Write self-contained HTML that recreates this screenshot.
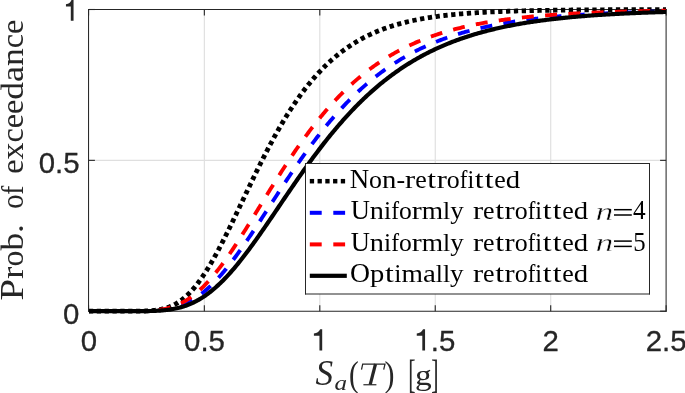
<!DOCTYPE html><html><head><meta charset="utf-8"><style>html,body{margin:0;padding:0;background:#fff}svg{display:block;will-change:transform}</style></head><body><svg width="685" height="393" viewBox="0 0 685 393">
<rect x="0" y="0" width="685" height="393" fill="#fff"/>
<line x1="204.35" y1="9.5" x2="204.35" y2="311.2" stroke="#dfdfdf" stroke-width="1.15"/>
<line x1="319.80" y1="9.5" x2="319.80" y2="311.2" stroke="#dfdfdf" stroke-width="1.15"/>
<line x1="435.25" y1="9.5" x2="435.25" y2="311.2" stroke="#dfdfdf" stroke-width="1.15"/>
<line x1="550.70" y1="9.5" x2="550.70" y2="311.2" stroke="#dfdfdf" stroke-width="1.15"/>
<line x1="88.9" y1="160.35" x2="666.1" y2="160.35" stroke="#dfdfdf" stroke-width="1.15"/>
<g stroke="#262626" stroke-width="1.04" stroke-linecap="square">
<line x1="88.55" y1="9.5" x2="88.55" y2="311.25"/><line x1="666.1" y1="9.5" x2="666.1" y2="311.25"/>
<line x1="88.55" y1="9.5" x2="666.1" y2="9.5"/><line x1="88.55" y1="311.25" x2="666.1" y2="311.25"/>
</g>
<line x1="88.55" y1="311.2" x2="88.55" y2="305.2" stroke="#262626" stroke-width="1.1"/>
<line x1="88.55" y1="9.5" x2="88.55" y2="15.5" stroke="#262626" stroke-width="1.1"/>
<line x1="204.35" y1="311.2" x2="204.35" y2="305.2" stroke="#262626" stroke-width="1.1"/>
<line x1="204.35" y1="9.5" x2="204.35" y2="15.5" stroke="#262626" stroke-width="1.1"/>
<line x1="319.80" y1="311.2" x2="319.80" y2="305.2" stroke="#262626" stroke-width="1.1"/>
<line x1="319.80" y1="9.5" x2="319.80" y2="15.5" stroke="#262626" stroke-width="1.1"/>
<line x1="435.25" y1="311.2" x2="435.25" y2="305.2" stroke="#262626" stroke-width="1.1"/>
<line x1="435.25" y1="9.5" x2="435.25" y2="15.5" stroke="#262626" stroke-width="1.1"/>
<line x1="550.70" y1="311.2" x2="550.70" y2="305.2" stroke="#262626" stroke-width="1.1"/>
<line x1="550.70" y1="9.5" x2="550.70" y2="15.5" stroke="#262626" stroke-width="1.1"/>
<line x1="666.15" y1="311.2" x2="666.15" y2="305.2" stroke="#262626" stroke-width="1.1"/>
<line x1="666.15" y1="9.5" x2="666.15" y2="15.5" stroke="#262626" stroke-width="1.1"/>
<line x1="88.9" y1="311.20" x2="94.9" y2="311.20" stroke="#262626" stroke-width="1.1"/>
<line x1="666.1" y1="311.20" x2="660.1" y2="311.20" stroke="#262626" stroke-width="1.1"/>
<line x1="88.9" y1="160.35" x2="94.9" y2="160.35" stroke="#262626" stroke-width="1.1"/>
<line x1="666.1" y1="160.35" x2="660.1" y2="160.35" stroke="#262626" stroke-width="1.1"/>
<line x1="88.9" y1="9.50" x2="94.9" y2="9.50" stroke="#262626" stroke-width="1.1"/>
<line x1="666.1" y1="9.50" x2="660.1" y2="9.50" stroke="#262626" stroke-width="1.1"/>
<clipPath id="c"><rect x="88.9" y="6.5" width="577.2" height="307.7"/></clipPath>
<clipPath id="c2"><rect x="135" y="6.5" width="531.1" height="307.7"/></clipPath>
<g clip-path="url(#c)" fill="none">
<path d="M88.90,311.20 L90.05,311.20 L91.21,311.20 L92.36,311.20 L93.52,311.20 L94.67,311.20 L95.83,311.20 L96.98,311.20 L98.14,311.20 L99.29,311.20 L100.45,311.20 L101.60,311.20 L102.75,311.20 L103.91,311.20 L105.06,311.20 L106.22,311.20 L107.37,311.20 L108.53,311.20 L109.68,311.20 L110.84,311.20 L111.99,311.20 L113.14,311.20 L114.30,311.20 L115.45,311.20 L116.61,311.20 L117.76,311.20 L118.92,311.20 L120.07,311.20 L121.23,311.20 L122.38,311.20 L123.53,311.20 L124.69,311.20 L125.84,311.20 L127.00,311.20 L128.15,311.20 L129.31,311.20 L130.46,311.19 L131.62,311.19 L132.77,311.19 L133.93,311.18 L135.08,311.18 L136.23,311.17 L137.39,311.16 L138.54,311.15 L139.70,311.13 L140.85,311.11 L142.01,311.09 L143.16,311.06 L144.32,311.03 L145.47,310.99 L146.62,310.94 L147.78,310.89 L148.93,310.83 L150.09,310.75 L151.24,310.67 L152.40,310.57 L153.55,310.46 L154.71,310.34 L155.86,310.20 L157.02,310.04 L158.17,309.87 L159.32,309.67 L160.48,309.45 L161.63,309.21 L162.79,308.94 L163.94,308.65 L165.10,308.33 L166.25,307.99 L167.41,307.61 L168.56,307.20 L169.72,306.76 L170.87,306.28 L172.02,305.77 L173.18,305.22 L174.33,304.64 L175.49,304.01 L176.64,303.35 L177.80,302.64 L178.95,301.89 L180.11,301.10 L181.26,300.26 L182.41,299.39 L183.57,298.46 L184.72,297.49 L185.88,296.48 L187.03,295.42 L188.19,294.31 L189.34,293.16 L190.50,291.95 L191.65,290.71 L192.81,289.41 L193.96,288.07 L195.11,286.69 L196.27,285.25 L197.42,283.78 L198.58,282.25 L199.73,280.69 L200.89,279.08 L202.04,277.42 L203.20,275.73 L204.35,273.99 L205.50,272.21 L206.66,270.39 L207.81,268.54 L208.97,266.64 L210.12,264.71 L211.28,262.75 L212.43,260.75 L213.59,258.71 L214.74,256.65 L215.90,254.55 L217.05,252.43 L218.20,250.27 L219.36,248.09 L220.51,245.89 L221.67,243.66 L222.82,241.40 L223.98,239.13 L225.13,236.83 L226.29,234.52 L227.44,232.19 L228.59,229.84 L229.75,227.48 L230.90,225.11 L232.06,222.72 L233.21,220.32 L234.37,217.92 L235.52,215.50 L236.68,213.08 L237.83,210.65 L238.99,208.22 L240.14,205.79 L241.29,203.35 L242.45,200.91 L243.60,198.48 L244.76,196.04 L245.91,193.61 L247.07,191.18 L248.22,188.76 L249.38,186.34 L250.53,183.92 L251.68,181.52 L252.84,179.12 L253.99,176.73 L255.15,174.36 L256.30,171.99 L257.46,169.64 L258.61,167.29 L259.77,164.96 L260.92,162.65 L262.08,160.35 L263.23,158.07 L264.38,155.80 L265.54,153.54 L266.69,151.31 L267.85,149.09 L269.00,146.89 L270.16,144.71 L271.31,142.55 L272.47,140.40 L273.62,138.28 L274.77,136.18 L275.93,134.10 L277.08,132.03 L278.24,129.99 L279.39,127.97 L280.55,125.98 L281.70,124.00 L282.86,122.05 L284.01,120.12 L285.16,118.21 L286.32,116.32 L287.47,114.46 L288.63,112.62 L289.78,110.80 L290.94,109.00 L292.09,107.23 L293.25,105.48 L294.40,103.76 L295.56,102.06 L296.71,100.38 L297.86,98.72 L299.02,97.09 L300.17,95.47 L301.33,93.89 L302.48,92.32 L303.64,90.78 L304.79,89.26 L305.95,87.76 L307.10,86.29 L308.25,84.84 L309.41,83.41 L310.56,82.00 L311.72,80.61 L312.87,79.25 L314.03,77.91 L315.18,76.59 L316.34,75.29 L317.49,74.01 L318.65,72.75 L319.80,71.52 L320.95,70.30 L322.11,69.10 L323.26,67.93 L324.42,66.77 L325.57,65.64 L326.73,64.52 L327.88,63.42 L329.04,62.34 L330.19,61.28 L331.35,60.24 L332.50,59.22 L333.65,58.22 L334.81,57.23 L335.96,56.26 L337.12,55.31 L338.27,54.38 L339.43,53.46 L340.58,52.56 L341.74,51.68 L342.89,50.81 L344.04,49.96 L345.20,49.12 L346.35,48.30 L347.51,47.50 L348.66,46.71 L349.82,45.94 L350.97,45.18 L352.13,44.43 L353.28,43.70 L354.43,42.99 L355.59,42.28 L356.74,41.60 L357.90,40.92 L359.05,40.26 L360.21,39.61 L361.36,38.97 L362.52,38.35 L363.67,37.74 L364.83,37.14 L365.98,36.55 L367.13,35.97 L368.29,35.41 L369.44,34.86 L370.60,34.31 L371.75,33.78 L372.91,33.26 L374.06,32.75 L375.22,32.25 L376.37,31.77 L377.52,31.29 L378.68,30.82 L379.83,30.36 L380.99,29.91 L382.14,29.47 L383.30,29.03 L384.45,28.61 L385.61,28.20 L386.76,27.79 L387.92,27.40 L389.07,27.01 L390.22,26.63 L391.38,26.25 L392.53,25.89 L393.69,25.53 L394.84,25.18 L396.00,24.84 L397.15,24.50 L398.31,24.18 L399.46,23.85 L400.62,23.54 L401.77,23.23 L402.92,22.93 L404.08,22.64 L405.23,22.35 L406.39,22.07 L407.54,21.79 L408.70,21.52 L409.85,21.26 L411.01,21.00 L412.16,20.74 L413.31,20.50 L414.47,20.25 L415.62,20.02 L416.78,19.78 L417.93,19.56 L419.09,19.34 L420.24,19.12 L421.40,18.91 L422.55,18.70 L423.71,18.49 L424.86,18.30 L426.01,18.10 L427.17,17.91 L428.32,17.72 L429.48,17.54 L430.63,17.36 L431.79,17.19 L432.94,17.02 L434.10,16.85 L435.25,16.69 L436.40,16.53 L437.56,16.37 L438.71,16.22 L439.87,16.07 L441.02,15.93 L442.18,15.78 L443.33,15.64 L444.49,15.51 L445.64,15.37 L446.80,15.24 L447.95,15.12 L449.10,14.99 L450.26,14.87 L451.41,14.75 L452.57,14.63 L453.72,14.52 L454.88,14.41 L456.03,14.30 L457.19,14.19 L458.34,14.09 L459.49,13.98 L460.65,13.88 L461.80,13.79 L462.96,13.69 L464.11,13.60 L465.27,13.51 L466.42,13.42 L467.58,13.33 L468.73,13.25 L469.88,13.16 L471.04,13.08 L472.19,13.00 L473.35,12.92 L474.50,12.85 L475.66,12.77 L476.81,12.70 L477.97,12.63 L479.12,12.56 L480.28,12.49 L481.43,12.42 L482.58,12.36 L483.74,12.30 L484.89,12.23 L486.05,12.17 L487.20,12.11 L488.36,12.06 L489.51,12.00 L490.67,11.94 L491.82,11.89 L492.98,11.84 L494.13,11.78 L495.28,11.73 L496.44,11.68 L497.59,11.64 L498.75,11.59 L499.90,11.54 L501.06,11.50 L502.21,11.45 L503.37,11.41 L504.52,11.37 L505.67,11.33 L506.83,11.28 L507.98,11.25 L509.14,11.21 L510.29,11.17 L511.45,11.13 L512.60,11.10 L513.76,11.06 L514.91,11.03 L516.07,10.99 L517.22,10.96 L518.37,10.93 L519.53,10.90 L520.68,10.86 L521.84,10.83 L522.99,10.80 L524.15,10.78 L525.30,10.75 L526.46,10.72 L527.61,10.69 L528.76,10.67 L529.92,10.64 L531.07,10.62 L532.23,10.59 L533.38,10.57 L534.54,10.54 L535.69,10.52 L536.85,10.50 L538.00,10.48 L539.15,10.46 L540.31,10.43 L541.46,10.41 L542.62,10.39 L543.77,10.37 L544.93,10.35 L546.08,10.34 L547.24,10.32 L548.39,10.30 L549.55,10.28 L550.70,10.27 L551.85,10.25 L553.01,10.23 L554.16,10.22 L555.32,10.20 L556.47,10.19 L557.63,10.17 L558.78,10.16 L559.94,10.14 L561.09,10.13 L562.25,10.11 L563.40,10.10 L564.55,10.09 L565.71,10.07 L566.86,10.06 L568.02,10.05 L569.17,10.04 L570.33,10.03 L571.48,10.01 L572.64,10.00 L573.79,9.99 L574.94,9.98 L576.10,9.97 L577.25,9.96 L578.41,9.95 L579.56,9.94 L580.72,9.93 L581.87,9.92 L583.03,9.91 L584.18,9.90 L585.34,9.90 L586.49,9.89 L587.64,9.88 L588.80,9.87 L589.95,9.86 L591.11,9.85 L592.26,9.85 L593.42,9.84 L594.57,9.83 L595.73,9.82 L596.88,9.82 L598.03,9.81 L599.19,9.80 L600.34,9.80 L601.50,9.79 L602.65,9.79 L603.81,9.78 L604.96,9.77 L606.12,9.77 L607.27,9.76 L608.42,9.76 L609.58,9.75 L610.73,9.74 L611.89,9.74 L613.04,9.73 L614.20,9.73 L615.35,9.72 L616.51,9.72 L617.66,9.72 L618.82,9.71 L619.97,9.71 L621.12,9.70 L622.28,9.70 L623.43,9.69 L624.59,9.69 L625.74,9.69 L626.90,9.68 L628.05,9.68 L629.21,9.67 L630.36,9.67 L631.51,9.67 L632.67,9.66 L633.82,9.66 L634.98,9.66 L636.13,9.65 L637.29,9.65 L638.44,9.65 L639.60,9.64 L640.75,9.64 L641.91,9.64 L643.06,9.63 L644.21,9.63 L645.37,9.63 L646.52,9.63 L647.68,9.62 L648.83,9.62 L649.99,9.62 L651.14,9.62 L652.30,9.61 L653.45,9.61 L654.61,9.61 L655.76,9.61 L656.91,9.60 L658.07,9.60 L659.22,9.60 L660.38,9.60 L661.53,9.60 L662.69,9.59 L663.84,9.59 L665.00,9.59 L666.15,9.59" stroke="#000" stroke-width="4.8" stroke-dasharray="4.3 3.55"/>
<path clip-path="url(#c2)" d="M88.90,311.20 L90.05,311.20 L91.21,311.20 L92.36,311.20 L93.52,311.20 L94.67,311.20 L95.83,311.20 L96.98,311.20 L98.14,311.20 L99.29,311.20 L100.45,311.20 L101.60,311.20 L102.75,311.20 L103.91,311.20 L105.06,311.20 L106.22,311.20 L107.37,311.20 L108.53,311.20 L109.68,311.20 L110.84,311.20 L111.99,311.20 L113.14,311.20 L114.30,311.20 L115.45,311.20 L116.61,311.20 L117.76,311.20 L118.92,311.20 L120.07,311.20 L121.23,311.20 L122.38,311.20 L123.53,311.20 L124.69,311.20 L125.84,311.20 L127.00,311.20 L128.15,311.20 L129.31,311.19 L130.46,311.19 L131.62,311.19 L132.77,311.19 L133.93,311.18 L135.08,311.18 L136.23,311.17 L137.39,311.16 L138.54,311.16 L139.70,311.14 L140.85,311.13 L142.01,311.12 L143.16,311.10 L144.32,311.08 L145.47,311.05 L146.62,311.02 L147.78,310.99 L148.93,310.95 L150.09,310.91 L151.24,310.86 L152.40,310.80 L153.55,310.74 L154.71,310.67 L155.86,310.59 L157.02,310.50 L158.17,310.40 L159.32,310.29 L160.48,310.17 L161.63,310.04 L162.79,309.90 L163.94,309.74 L165.10,309.57 L166.25,309.39 L167.41,309.19 L168.56,308.97 L169.72,308.74 L170.87,308.49 L172.02,308.23 L173.18,307.94 L174.33,307.64 L175.49,307.32 L176.64,306.97 L177.80,306.61 L178.95,306.22 L180.11,305.81 L181.26,305.38 L182.41,304.93 L183.57,304.45 L184.72,303.95 L185.88,303.42 L187.03,302.87 L188.19,302.29 L189.34,301.69 L190.50,301.06 L191.65,300.41 L192.81,299.73 L193.96,299.02 L195.11,298.29 L196.27,297.53 L197.42,296.75 L198.58,295.93 L199.73,295.09 L200.89,294.23 L202.04,293.33 L203.20,292.41 L204.35,291.46 L205.50,290.49 L206.66,289.49 L207.81,288.46 L208.97,287.41 L210.12,286.33 L211.28,285.22 L212.43,284.09 L213.59,282.93 L214.74,281.75 L215.90,280.55 L217.05,279.32 L218.20,278.07 L219.36,276.79 L220.51,275.49 L221.67,274.17 L222.82,272.82 L223.98,271.46 L225.13,270.07 L226.29,268.66 L227.44,267.24 L228.59,265.79 L229.75,264.32 L230.90,262.84 L232.06,261.34 L233.21,259.82 L234.37,258.28 L235.52,256.73 L236.68,255.16 L237.83,253.57 L238.99,251.97 L240.14,250.36 L241.29,248.73 L242.45,247.09 L243.60,245.44 L244.76,243.78 L245.91,242.10 L247.07,240.42 L248.22,238.72 L249.38,237.02 L250.53,235.31 L251.68,233.58 L252.84,231.86 L253.99,230.12 L255.15,228.38 L256.30,226.63 L257.46,224.87 L258.61,223.11 L259.77,221.35 L260.92,219.58 L262.08,217.81 L263.23,216.03 L264.38,214.26 L265.54,212.48 L266.69,210.70 L267.85,208.92 L269.00,207.14 L270.16,205.36 L271.31,203.58 L272.47,201.80 L273.62,200.02 L274.77,198.24 L275.93,196.47 L277.08,194.70 L278.24,192.93 L279.39,191.16 L280.55,189.40 L281.70,187.64 L282.86,185.89 L284.01,184.14 L285.16,182.40 L286.32,180.66 L287.47,178.93 L288.63,177.20 L289.78,175.48 L290.94,173.77 L292.09,172.07 L293.25,170.37 L294.40,168.68 L295.56,167.00 L296.71,165.32 L297.86,163.66 L299.02,162.00 L300.17,160.35 L301.33,158.71 L302.48,157.08 L303.64,155.46 L304.79,153.85 L305.95,152.25 L307.10,150.65 L308.25,149.07 L309.41,147.50 L310.56,145.94 L311.72,144.39 L312.87,142.85 L314.03,141.32 L315.18,139.80 L316.34,138.29 L317.49,136.80 L318.65,135.31 L319.80,133.84 L320.95,132.38 L322.11,130.93 L323.26,129.49 L324.42,128.06 L325.57,126.64 L326.73,125.24 L327.88,123.85 L329.04,122.47 L330.19,121.10 L331.35,119.74 L332.50,118.40 L333.65,117.07 L334.81,115.74 L335.96,114.44 L337.12,113.14 L338.27,111.86 L339.43,110.58 L340.58,109.32 L341.74,108.07 L342.89,106.84 L344.04,105.61 L345.20,104.40 L346.35,103.20 L347.51,102.01 L348.66,100.84 L349.82,99.67 L350.97,98.52 L352.13,97.38 L353.28,96.25 L354.43,95.13 L355.59,94.03 L356.74,92.93 L357.90,91.85 L359.05,90.78 L360.21,89.72 L361.36,88.68 L362.52,87.64 L363.67,86.62 L364.83,85.60 L365.98,84.60 L367.13,83.61 L368.29,82.63 L369.44,81.66 L370.60,80.70 L371.75,79.76 L372.91,78.82 L374.06,77.90 L375.22,76.98 L376.37,76.08 L377.52,75.18 L378.68,74.30 L379.83,73.43 L380.99,72.57 L382.14,71.72 L383.30,70.87 L384.45,70.04 L385.61,69.22 L386.76,68.41 L387.92,67.61 L389.07,66.82 L390.22,66.03 L391.38,65.26 L392.53,64.50 L393.69,63.74 L394.84,63.00 L396.00,62.26 L397.15,61.54 L398.31,60.82 L399.46,60.11 L400.62,59.41 L401.77,58.72 L402.92,58.04 L404.08,57.37 L405.23,56.70 L406.39,56.05 L407.54,55.40 L408.70,54.76 L409.85,54.13 L411.01,53.51 L412.16,52.89 L413.31,52.29 L414.47,51.69 L415.62,51.10 L416.78,50.51 L417.93,49.94 L419.09,49.37 L420.24,48.81 L421.40,48.26 L422.55,47.71 L423.71,47.17 L424.86,46.64 L426.01,46.12 L427.17,45.60 L428.32,45.09 L429.48,44.59 L430.63,44.09 L431.79,43.60 L432.94,43.11 L434.10,42.64 L435.25,42.17 L436.40,41.70 L437.56,41.25 L438.71,40.79 L439.87,40.35 L441.02,39.91 L442.18,39.47 L443.33,39.05 L444.49,38.63 L445.64,38.21 L446.80,37.80 L447.95,37.39 L449.10,37.00 L450.26,36.60 L451.41,36.21 L452.57,35.83 L453.72,35.45 L454.88,35.08 L456.03,34.71 L457.19,34.35 L458.34,34.00 L459.49,33.64 L460.65,33.30 L461.80,32.96 L462.96,32.62 L464.11,32.29 L465.27,31.96 L466.42,31.63 L467.58,31.32 L468.73,31.00 L469.88,30.69 L471.04,30.39 L472.19,30.08 L473.35,29.79 L474.50,29.49 L475.66,29.21 L476.81,28.92 L477.97,28.64 L479.12,28.36 L480.28,28.09 L481.43,27.82 L482.58,27.56 L483.74,27.30 L484.89,27.04 L486.05,26.79 L487.20,26.54 L488.36,26.29 L489.51,26.05 L490.67,25.81 L491.82,25.57 L492.98,25.34 L494.13,25.11 L495.28,24.88 L496.44,24.66 L497.59,24.44 L498.75,24.22 L499.90,24.01 L501.06,23.80 L502.21,23.59 L503.37,23.39 L504.52,23.19 L505.67,22.99 L506.83,22.79 L507.98,22.60 L509.14,22.41 L510.29,22.22 L511.45,22.04 L512.60,21.86 L513.76,21.68 L514.91,21.50 L516.07,21.33 L517.22,21.16 L518.37,20.99 L519.53,20.82 L520.68,20.66 L521.84,20.49 L522.99,20.33 L524.15,20.18 L525.30,20.02 L526.46,19.87 L527.61,19.72 L528.76,19.57 L529.92,19.42 L531.07,19.28 L532.23,19.14 L533.38,19.00 L534.54,18.86 L535.69,18.73 L536.85,18.59 L538.00,18.46 L539.15,18.33 L540.31,18.20 L541.46,18.08 L542.62,17.95 L543.77,17.83 L544.93,17.71 L546.08,17.59 L547.24,17.47 L548.39,17.36 L549.55,17.24 L550.70,17.13 L551.85,17.02 L553.01,16.91 L554.16,16.80 L555.32,16.70 L556.47,16.59 L557.63,16.49 L558.78,16.39 L559.94,16.29 L561.09,16.19 L562.25,16.10 L563.40,16.00 L564.55,15.91 L565.71,15.81 L566.86,15.72 L568.02,15.63 L569.17,15.54 L570.33,15.46 L571.48,15.37 L572.64,15.29 L573.79,15.20 L574.94,15.12 L576.10,15.04 L577.25,14.96 L578.41,14.88 L579.56,14.80 L580.72,14.73 L581.87,14.65 L583.03,14.58 L584.18,14.50 L585.34,14.43 L586.49,14.36 L587.64,14.29 L588.80,14.22 L589.95,14.15 L591.11,14.09 L592.26,14.02 L593.42,13.96 L594.57,13.89 L595.73,13.83 L596.88,13.77 L598.03,13.71 L599.19,13.65 L600.34,13.59 L601.50,13.53 L602.65,13.47 L603.81,13.41 L604.96,13.36 L606.12,13.30 L607.27,13.25 L608.42,13.19 L609.58,13.14 L610.73,13.09 L611.89,13.04 L613.04,12.99 L614.20,12.94 L615.35,12.89 L616.51,12.84 L617.66,12.79 L618.82,12.74 L619.97,12.70 L621.12,12.65 L622.28,12.61 L623.43,12.56 L624.59,12.52 L625.74,12.48 L626.90,12.43 L628.05,12.39 L629.21,12.35 L630.36,12.31 L631.51,12.27 L632.67,12.23 L633.82,12.19 L634.98,12.15 L636.13,12.12 L637.29,12.08 L638.44,12.04 L639.60,12.01 L640.75,11.97 L641.91,11.94 L643.06,11.90 L644.21,11.87 L645.37,11.83 L646.52,11.80 L647.68,11.77 L648.83,11.74 L649.99,11.70 L651.14,11.67 L652.30,11.64 L653.45,11.61 L654.61,11.58 L655.76,11.55 L656.91,11.52 L658.07,11.50 L659.22,11.47 L660.38,11.44 L661.53,11.41 L662.69,11.39 L663.84,11.36 L665.00,11.33 L666.15,11.31" stroke="#0000ff" stroke-width="3.85" stroke-dasharray="12.0 11.3"/>
<path clip-path="url(#c2)" d="M88.90,311.20 L90.05,311.20 L91.21,311.20 L92.36,311.20 L93.52,311.20 L94.67,311.20 L95.83,311.20 L96.98,311.20 L98.14,311.20 L99.29,311.20 L100.45,311.20 L101.60,311.20 L102.75,311.20 L103.91,311.20 L105.06,311.20 L106.22,311.20 L107.37,311.20 L108.53,311.20 L109.68,311.20 L110.84,311.20 L111.99,311.20 L113.14,311.20 L114.30,311.20 L115.45,311.20 L116.61,311.20 L117.76,311.20 L118.92,311.20 L120.07,311.20 L121.23,311.20 L122.38,311.20 L123.53,311.20 L124.69,311.20 L125.84,311.20 L127.00,311.19 L128.15,311.19 L129.31,311.19 L130.46,311.19 L131.62,311.18 L132.77,311.18 L133.93,311.17 L135.08,311.16 L136.23,311.15 L137.39,311.14 L138.54,311.13 L139.70,311.11 L140.85,311.09 L142.01,311.06 L143.16,311.03 L144.32,311.00 L145.47,310.96 L146.62,310.91 L147.78,310.86 L148.93,310.80 L150.09,310.74 L151.24,310.66 L152.40,310.58 L153.55,310.48 L154.71,310.38 L155.86,310.26 L157.02,310.13 L158.17,309.99 L159.32,309.83 L160.48,309.66 L161.63,309.47 L162.79,309.27 L163.94,309.05 L165.10,308.81 L166.25,308.55 L167.41,308.27 L168.56,307.97 L169.72,307.65 L170.87,307.31 L172.02,306.95 L173.18,306.56 L174.33,306.15 L175.49,305.71 L176.64,305.25 L177.80,304.76 L178.95,304.24 L180.11,303.70 L181.26,303.13 L182.41,302.54 L183.57,301.91 L184.72,301.26 L185.88,300.57 L187.03,299.86 L188.19,299.12 L189.34,298.35 L190.50,297.55 L191.65,296.72 L192.81,295.86 L193.96,294.97 L195.11,294.04 L196.27,293.09 L197.42,292.11 L198.58,291.10 L199.73,290.06 L200.89,288.99 L202.04,287.89 L203.20,286.76 L204.35,285.60 L205.50,284.42 L206.66,283.20 L207.81,281.96 L208.97,280.69 L210.12,279.39 L211.28,278.07 L212.43,276.72 L213.59,275.35 L214.74,273.95 L215.90,272.52 L217.05,271.07 L218.20,269.60 L219.36,268.11 L220.51,266.59 L221.67,265.05 L222.82,263.49 L223.98,261.91 L225.13,260.31 L226.29,258.69 L227.44,257.05 L228.59,255.40 L229.75,253.73 L230.90,252.04 L232.06,250.33 L233.21,248.62 L234.37,246.88 L235.52,245.13 L236.68,243.37 L237.83,241.60 L238.99,239.82 L240.14,238.02 L241.29,236.22 L242.45,234.40 L243.60,232.58 L244.76,230.75 L245.91,228.91 L247.07,227.06 L248.22,225.21 L249.38,223.35 L250.53,221.49 L251.68,219.62 L252.84,217.75 L253.99,215.87 L255.15,214.00 L256.30,212.12 L257.46,210.24 L258.61,208.35 L259.77,206.47 L260.92,204.59 L262.08,202.71 L263.23,200.83 L264.38,198.95 L265.54,197.08 L266.69,195.20 L267.85,193.33 L269.00,191.47 L270.16,189.60 L271.31,187.75 L272.47,185.90 L273.62,184.05 L274.77,182.21 L275.93,180.37 L277.08,178.54 L278.24,176.72 L279.39,174.91 L280.55,173.10 L281.70,171.30 L282.86,169.51 L284.01,167.73 L285.16,165.96 L286.32,164.20 L287.47,162.44 L288.63,160.70 L289.78,158.96 L290.94,157.24 L292.09,155.53 L293.25,153.82 L294.40,152.13 L295.56,150.45 L296.71,148.78 L297.86,147.12 L299.02,145.48 L300.17,143.84 L301.33,142.22 L302.48,140.61 L303.64,139.01 L304.79,137.42 L305.95,135.85 L307.10,134.29 L308.25,132.74 L309.41,131.20 L310.56,129.68 L311.72,128.17 L312.87,126.68 L314.03,125.19 L315.18,123.72 L316.34,122.27 L317.49,120.82 L318.65,119.39 L319.80,117.97 L320.95,116.57 L322.11,115.18 L323.26,113.80 L324.42,112.44 L325.57,111.09 L326.73,109.75 L327.88,108.43 L329.04,107.12 L330.19,105.83 L331.35,104.54 L332.50,103.27 L333.65,102.02 L334.81,100.78 L335.96,99.55 L337.12,98.33 L338.27,97.13 L339.43,95.94 L340.58,94.76 L341.74,93.60 L342.89,92.45 L344.04,91.31 L345.20,90.19 L346.35,89.07 L347.51,87.98 L348.66,86.89 L349.82,85.82 L350.97,84.76 L352.13,83.71 L353.28,82.67 L354.43,81.65 L355.59,80.64 L356.74,79.64 L357.90,78.65 L359.05,77.68 L360.21,76.71 L361.36,75.76 L362.52,74.82 L363.67,73.89 L364.83,72.98 L365.98,72.07 L367.13,71.18 L368.29,70.30 L369.44,69.43 L370.60,68.57 L371.75,67.72 L372.91,66.88 L374.06,66.05 L375.22,65.24 L376.37,64.43 L377.52,63.63 L378.68,62.85 L379.83,62.07 L380.99,61.31 L382.14,60.56 L383.30,59.81 L384.45,59.08 L385.61,58.35 L386.76,57.64 L387.92,56.93 L389.07,56.24 L390.22,55.55 L391.38,54.87 L392.53,54.21 L393.69,53.55 L394.84,52.90 L396.00,52.26 L397.15,51.62 L398.31,51.00 L399.46,50.39 L400.62,49.78 L401.77,49.18 L402.92,48.59 L404.08,48.01 L405.23,47.44 L406.39,46.87 L407.54,46.32 L408.70,45.77 L409.85,45.23 L411.01,44.69 L412.16,44.17 L413.31,43.65 L414.47,43.14 L415.62,42.63 L416.78,42.13 L417.93,41.65 L419.09,41.16 L420.24,40.69 L421.40,40.22 L422.55,39.75 L423.71,39.30 L424.86,38.85 L426.01,38.41 L427.17,37.97 L428.32,37.54 L429.48,37.12 L430.63,36.70 L431.79,36.29 L432.94,35.88 L434.10,35.48 L435.25,35.09 L436.40,34.70 L437.56,34.32 L438.71,33.95 L439.87,33.57 L441.02,33.21 L442.18,32.85 L443.33,32.49 L444.49,32.14 L445.64,31.80 L446.80,31.46 L447.95,31.13 L449.10,30.80 L450.26,30.47 L451.41,30.15 L452.57,29.84 L453.72,29.53 L454.88,29.22 L456.03,28.92 L457.19,28.63 L458.34,28.34 L459.49,28.05 L460.65,27.76 L461.80,27.49 L462.96,27.21 L464.11,26.94 L465.27,26.67 L466.42,26.41 L467.58,26.15 L468.73,25.90 L469.88,25.65 L471.04,25.40 L472.19,25.16 L473.35,24.92 L474.50,24.68 L475.66,24.45 L476.81,24.22 L477.97,24.00 L479.12,23.77 L480.28,23.56 L481.43,23.34 L482.58,23.13 L483.74,22.92 L484.89,22.71 L486.05,22.51 L487.20,22.31 L488.36,22.12 L489.51,21.92 L490.67,21.73 L491.82,21.55 L492.98,21.36 L494.13,21.18 L495.28,21.00 L496.44,20.82 L497.59,20.65 L498.75,20.48 L499.90,20.31 L501.06,20.15 L502.21,19.98 L503.37,19.82 L504.52,19.66 L505.67,19.51 L506.83,19.36 L507.98,19.20 L509.14,19.06 L510.29,18.91 L511.45,18.77 L512.60,18.62 L513.76,18.48 L514.91,18.35 L516.07,18.21 L517.22,18.08 L518.37,17.95 L519.53,17.82 L520.68,17.69 L521.84,17.56 L522.99,17.44 L524.15,17.32 L525.30,17.20 L526.46,17.08 L527.61,16.97 L528.76,16.85 L529.92,16.74 L531.07,16.63 L532.23,16.52 L533.38,16.41 L534.54,16.31 L535.69,16.20 L536.85,16.10 L538.00,16.00 L539.15,15.90 L540.31,15.80 L541.46,15.71 L542.62,15.61 L543.77,15.52 L544.93,15.43 L546.08,15.34 L547.24,15.25 L548.39,15.16 L549.55,15.07 L550.70,14.99 L551.85,14.91 L553.01,14.82 L554.16,14.74 L555.32,14.66 L556.47,14.58 L557.63,14.51 L558.78,14.43 L559.94,14.36 L561.09,14.28 L562.25,14.21 L563.40,14.14 L564.55,14.07 L565.71,14.00 L566.86,13.93 L568.02,13.86 L569.17,13.80 L570.33,13.73 L571.48,13.67 L572.64,13.60 L573.79,13.54 L574.94,13.48 L576.10,13.42 L577.25,13.36 L578.41,13.30 L579.56,13.24 L580.72,13.19 L581.87,13.13 L583.03,13.08 L584.18,13.02 L585.34,12.97 L586.49,12.92 L587.64,12.87 L588.80,12.82 L589.95,12.77 L591.11,12.72 L592.26,12.67 L593.42,12.62 L594.57,12.57 L595.73,12.53 L596.88,12.48 L598.03,12.44 L599.19,12.39 L600.34,12.35 L601.50,12.31 L602.65,12.26 L603.81,12.22 L604.96,12.18 L606.12,12.14 L607.27,12.10 L608.42,12.06 L609.58,12.02 L610.73,11.99 L611.89,11.95 L613.04,11.91 L614.20,11.88 L615.35,11.84 L616.51,11.81 L617.66,11.77 L618.82,11.74 L619.97,11.70 L621.12,11.67 L622.28,11.64 L623.43,11.61 L624.59,11.57 L625.74,11.54 L626.90,11.51 L628.05,11.48 L629.21,11.45 L630.36,11.42 L631.51,11.40 L632.67,11.37 L633.82,11.34 L634.98,11.31 L636.13,11.29 L637.29,11.26 L638.44,11.23 L639.60,11.21 L640.75,11.18 L641.91,11.16 L643.06,11.13 L644.21,11.11 L645.37,11.08 L646.52,11.06 L647.68,11.04 L648.83,11.02 L649.99,10.99 L651.14,10.97 L652.30,10.95 L653.45,10.93 L654.61,10.91 L655.76,10.89 L656.91,10.87 L658.07,10.85 L659.22,10.83 L660.38,10.81 L661.53,10.79 L662.69,10.77 L663.84,10.75 L665.00,10.73 L666.15,10.71" stroke="#ff0000" stroke-width="3.85" stroke-dasharray="12.0 11.3"/>
<path d="M88.90,311.20 L90.05,311.20 L91.21,311.20 L92.36,311.20 L93.52,311.20 L94.67,311.20 L95.83,311.20 L96.98,311.20 L98.14,311.20 L99.29,311.20 L100.45,311.20 L101.60,311.20 L102.75,311.20 L103.91,311.20 L105.06,311.20 L106.22,311.20 L107.37,311.20 L108.53,311.20 L109.68,311.20 L110.84,311.20 L111.99,311.20 L113.14,311.20 L114.30,311.20 L115.45,311.20 L116.61,311.20 L117.76,311.20 L118.92,311.20 L120.07,311.20 L121.23,311.20 L122.38,311.20 L123.53,311.20 L124.69,311.20 L125.84,311.20 L127.00,311.20 L128.15,311.20 L129.31,311.20 L130.46,311.20 L131.62,311.20 L132.77,311.19 L133.93,311.19 L135.08,311.19 L136.23,311.19 L137.39,311.18 L138.54,311.18 L139.70,311.17 L140.85,311.16 L142.01,311.15 L143.16,311.14 L144.32,311.13 L145.47,311.11 L146.62,311.10 L147.78,311.08 L148.93,311.05 L150.09,311.02 L151.24,310.99 L152.40,310.96 L153.55,310.92 L154.71,310.87 L155.86,310.82 L157.02,310.76 L158.17,310.70 L159.32,310.63 L160.48,310.55 L161.63,310.46 L162.79,310.36 L163.94,310.25 L165.10,310.14 L166.25,310.01 L167.41,309.87 L168.56,309.72 L169.72,309.56 L170.87,309.38 L172.02,309.19 L173.18,308.99 L174.33,308.77 L175.49,308.54 L176.64,308.29 L177.80,308.02 L178.95,307.74 L180.11,307.44 L181.26,307.12 L182.41,306.78 L183.57,306.42 L184.72,306.04 L185.88,305.64 L187.03,305.22 L188.19,304.78 L189.34,304.32 L190.50,303.84 L191.65,303.33 L192.81,302.81 L193.96,302.25 L195.11,301.68 L196.27,301.08 L197.42,300.46 L198.58,299.81 L199.73,299.15 L200.89,298.45 L202.04,297.73 L203.20,296.99 L204.35,296.22 L205.50,295.43 L206.66,294.62 L207.81,293.78 L208.97,292.91 L210.12,292.02 L211.28,291.11 L212.43,290.17 L213.59,289.21 L214.74,288.22 L215.90,287.21 L217.05,286.17 L218.20,285.12 L219.36,284.04 L220.51,282.93 L221.67,281.81 L222.82,280.66 L223.98,279.49 L225.13,278.29 L226.29,277.08 L227.44,275.84 L228.59,274.59 L229.75,273.31 L230.90,272.01 L232.06,270.70 L233.21,269.36 L234.37,268.01 L235.52,266.64 L236.68,265.25 L237.83,263.84 L238.99,262.42 L240.14,260.98 L241.29,259.52 L242.45,258.05 L243.60,256.56 L244.76,255.06 L245.91,253.55 L247.07,252.02 L248.22,250.48 L249.38,248.92 L250.53,247.36 L251.68,245.78 L252.84,244.19 L253.99,242.59 L255.15,240.99 L256.30,239.37 L257.46,237.74 L258.61,236.11 L259.77,234.46 L260.92,232.81 L262.08,231.16 L263.23,229.49 L264.38,227.82 L265.54,226.15 L266.69,224.47 L267.85,222.78 L269.00,221.09 L270.16,219.40 L271.31,217.71 L272.47,216.01 L273.62,214.31 L274.77,212.61 L275.93,210.90 L277.08,209.20 L278.24,207.50 L279.39,205.79 L280.55,204.09 L281.70,202.38 L282.86,200.68 L284.01,198.98 L285.16,197.28 L286.32,195.58 L287.47,193.88 L288.63,192.19 L289.78,190.50 L290.94,188.82 L292.09,187.14 L293.25,185.46 L294.40,183.78 L295.56,182.12 L296.71,180.45 L297.86,178.80 L299.02,177.14 L300.17,175.50 L301.33,173.86 L302.48,172.22 L303.64,170.59 L304.79,168.97 L305.95,167.36 L307.10,165.75 L308.25,164.15 L309.41,162.56 L310.56,160.98 L311.72,159.41 L312.87,157.84 L314.03,156.28 L315.18,154.73 L316.34,153.19 L317.49,151.66 L318.65,150.14 L319.80,148.62 L320.95,147.12 L322.11,145.62 L323.26,144.14 L324.42,142.67 L325.57,141.20 L326.73,139.74 L327.88,138.30 L329.04,136.86 L330.19,135.44 L331.35,134.03 L332.50,132.62 L333.65,131.23 L334.81,129.85 L335.96,128.47 L337.12,127.11 L338.27,125.76 L339.43,124.42 L340.58,123.09 L341.74,121.78 L342.89,120.47 L344.04,119.17 L345.20,117.89 L346.35,116.61 L347.51,115.35 L348.66,114.10 L349.82,112.86 L350.97,111.63 L352.13,110.41 L353.28,109.20 L354.43,108.00 L355.59,106.82 L356.74,105.64 L357.90,104.48 L359.05,103.32 L360.21,102.18 L361.36,101.05 L362.52,99.93 L363.67,98.82 L364.83,97.72 L365.98,96.64 L367.13,95.56 L368.29,94.50 L369.44,93.44 L370.60,92.40 L371.75,91.36 L372.91,90.34 L374.06,89.33 L375.22,88.33 L376.37,87.33 L377.52,86.35 L378.68,85.38 L379.83,84.42 L380.99,83.47 L382.14,82.53 L383.30,81.60 L384.45,80.69 L385.61,79.78 L386.76,78.88 L387.92,77.99 L389.07,77.11 L390.22,76.24 L391.38,75.38 L392.53,74.53 L393.69,73.69 L394.84,72.86 L396.00,72.03 L397.15,71.22 L398.31,70.42 L399.46,69.63 L400.62,68.84 L401.77,68.06 L402.92,67.30 L404.08,66.54 L405.23,65.79 L406.39,65.05 L407.54,64.32 L408.70,63.60 L409.85,62.88 L411.01,62.18 L412.16,61.48 L413.31,60.79 L414.47,60.11 L415.62,59.44 L416.78,58.78 L417.93,58.12 L419.09,57.47 L420.24,56.83 L421.40,56.20 L422.55,55.58 L423.71,54.96 L424.86,54.35 L426.01,53.75 L427.17,53.16 L428.32,52.57 L429.48,51.99 L430.63,51.42 L431.79,50.85 L432.94,50.30 L434.10,49.74 L435.25,49.20 L436.40,48.66 L437.56,48.13 L438.71,47.61 L439.87,47.09 L441.02,46.58 L442.18,46.08 L443.33,45.58 L444.49,45.09 L445.64,44.61 L446.80,44.13 L447.95,43.66 L449.10,43.19 L450.26,42.73 L451.41,42.28 L452.57,41.83 L453.72,41.39 L454.88,40.95 L456.03,40.52 L457.19,40.09 L458.34,39.67 L459.49,39.26 L460.65,38.85 L461.80,38.45 L462.96,38.05 L464.11,37.66 L465.27,37.27 L466.42,36.89 L467.58,36.51 L468.73,36.14 L469.88,35.77 L471.04,35.41 L472.19,35.05 L473.35,34.70 L474.50,34.35 L475.66,34.01 L476.81,33.67 L477.97,33.33 L479.12,33.00 L480.28,32.68 L481.43,32.36 L482.58,32.04 L483.74,31.73 L484.89,31.42 L486.05,31.12 L487.20,30.82 L488.36,30.52 L489.51,30.23 L490.67,29.94 L491.82,29.66 L492.98,29.38 L494.13,29.10 L495.28,28.83 L496.44,28.56 L497.59,28.29 L498.75,28.03 L499.90,27.77 L501.06,27.52 L502.21,27.27 L503.37,27.02 L504.52,26.78 L505.67,26.54 L506.83,26.30 L507.98,26.06 L509.14,25.83 L510.29,25.61 L511.45,25.38 L512.60,25.16 L513.76,24.94 L514.91,24.73 L516.07,24.51 L517.22,24.30 L518.37,24.10 L519.53,23.89 L520.68,23.69 L521.84,23.49 L522.99,23.30 L524.15,23.11 L525.30,22.92 L526.46,22.73 L527.61,22.54 L528.76,22.36 L529.92,22.18 L531.07,22.00 L532.23,21.83 L533.38,21.66 L534.54,21.49 L535.69,21.32 L536.85,21.15 L538.00,20.99 L539.15,20.83 L540.31,20.67 L541.46,20.52 L542.62,20.36 L543.77,20.21 L544.93,20.06 L546.08,19.91 L547.24,19.77 L548.39,19.62 L549.55,19.48 L550.70,19.34 L551.85,19.21 L553.01,19.07 L554.16,18.94 L555.32,18.80 L556.47,18.67 L557.63,18.55 L558.78,18.42 L559.94,18.29 L561.09,18.17 L562.25,18.05 L563.40,17.93 L564.55,17.81 L565.71,17.70 L566.86,17.58 L568.02,17.47 L569.17,17.36 L570.33,17.25 L571.48,17.14 L572.64,17.03 L573.79,16.93 L574.94,16.83 L576.10,16.72 L577.25,16.62 L578.41,16.52 L579.56,16.42 L580.72,16.33 L581.87,16.23 L583.03,16.14 L584.18,16.05 L585.34,15.96 L586.49,15.87 L587.64,15.78 L588.80,15.69 L589.95,15.60 L591.11,15.52 L592.26,15.43 L593.42,15.35 L594.57,15.27 L595.73,15.19 L596.88,15.11 L598.03,15.03 L599.19,14.96 L600.34,14.88 L601.50,14.81 L602.65,14.73 L603.81,14.66 L604.96,14.59 L606.12,14.52 L607.27,14.45 L608.42,14.38 L609.58,14.31 L610.73,14.24 L611.89,14.18 L613.04,14.11 L614.20,14.05 L615.35,13.99 L616.51,13.92 L617.66,13.86 L618.82,13.80 L619.97,13.74 L621.12,13.68 L622.28,13.63 L623.43,13.57 L624.59,13.51 L625.74,13.46 L626.90,13.40 L628.05,13.35 L629.21,13.29 L630.36,13.24 L631.51,13.19 L632.67,13.14 L633.82,13.09 L634.98,13.04 L636.13,12.99 L637.29,12.94 L638.44,12.90 L639.60,12.85 L640.75,12.80 L641.91,12.76 L643.06,12.71 L644.21,12.67 L645.37,12.62 L646.52,12.58 L647.68,12.54 L648.83,12.50 L649.99,12.46 L651.14,12.41 L652.30,12.37 L653.45,12.34 L654.61,12.30 L655.76,12.26 L656.91,12.22 L658.07,12.18 L659.22,12.15 L660.38,12.11 L661.53,12.07 L662.69,12.04 L663.84,12.00 L665.00,11.97 L666.15,11.94" stroke="#000" stroke-width="4.2" stroke-linejoin="round"/>
</g>
<text transform="matrix(1 0 0 1.035 80.81 350.90)" font-family="Liberation Sans, sans-serif" font-size="29.4" fill="#262626" stroke="#262626" stroke-width="0.3">0</text>
<text transform="matrix(1 0 0 1.035 184.08 350.90)" font-family="Liberation Sans, sans-serif" font-size="29.4" fill="#262626" stroke="#262626" stroke-width="0.3">0.5</text>
<text transform="matrix(1 0 0 1.035 542.61 350.90)" font-family="Liberation Sans, sans-serif" font-size="29.4" fill="#262626" stroke="#262626" stroke-width="0.3">2</text>
<text transform="matrix(1 0 0 1.035 645.69 350.90)" font-family="Liberation Sans, sans-serif" font-size="29.4" fill="#262626" stroke="#262626" stroke-width="0.3">2.5</text>
<path d="M322.20,329.20 L322.20,350.60 L319.45,350.60 L319.45,335.70 L313.90,335.70 L313.90,333.40 C317.10,333.20 318.80,331.80 320.20,329.20 Z" fill="#262626"/>
<text transform="matrix(1 0 0 1.035 430.79 350.90)" font-family="Liberation Sans, sans-serif" font-size="29.4" fill="#262626" stroke="#262626" stroke-width="0.3">.5</text>
<path d="M425.06,329.20 L425.06,350.60 L422.31,350.60 L422.31,335.70 L416.76,335.70 L416.76,333.40 C419.96,333.20 421.66,331.80 423.06,329.20 Z" fill="#262626"/>
<text transform="matrix(1 0 0 1.035 63.05 323.90)" font-family="Liberation Sans, sans-serif" font-size="29.4" fill="#262626" stroke="#262626" stroke-width="0.3">0</text>
<text transform="matrix(1 0 0 1.035 38.67 173.05)" font-family="Liberation Sans, sans-serif" font-size="29.4" fill="#262626" stroke="#262626" stroke-width="0.3">0.5</text>
<path d="M73.55,0.00 L73.55,20.80 L70.80,20.80 L70.80,6.50 L65.95,6.50 L65.95,4.20 C69.15,4.00 70.15,2.60 71.55,0.00 Z" fill="#262626"/>
<rect x="305.5" y="163.5" width="344.0" height="130.45" fill="#fff"/>
<g stroke="#262626" stroke-width="1.04" stroke-linecap="square">
<line x1="305.5" y1="163.5" x2="305.5" y2="293.95"/><line x1="649.5" y1="163.5" x2="649.5" y2="293.95"/>
<line x1="305.5" y1="163.5" x2="649.5" y2="163.5"/><line x1="305.5" y1="293.95" x2="649.5" y2="293.95"/>
</g>
<rect x="309.80" y="178.95000000000002" width="4.3" height="4.5" fill="#000"/>
<rect x="317.55" y="178.95000000000002" width="4.3" height="4.5" fill="#000"/>
<rect x="325.30" y="178.95000000000002" width="4.3" height="4.5" fill="#000"/>
<rect x="333.05" y="178.95000000000002" width="4.3" height="4.5" fill="#000"/>
<rect x="340.80" y="178.95000000000002" width="4.3" height="4.5" fill="#000"/>
<rect x="309.8" y="210.8" width="11.9" height="4.0" fill="#0000ff"/>
<rect x="333.3" y="210.8" width="11.8" height="4.0" fill="#0000ff"/>
<rect x="309.8" y="242.4" width="11.9" height="4.0" fill="#ff0000"/>
<rect x="333.3" y="242.4" width="11.8" height="4.0" fill="#ff0000"/>
<rect x="309.8" y="273.7" width="37.0" height="4.2" fill="#000"/>
<g font-family="Liberation Serif, serif" text-anchor="middle" fill="#000"><text transform="matrix(0.996 0 0 1 359.36 187.60)" font-size="27.0">N</text><text transform="matrix(0.996 0 0 1 375.53 187.60)" font-size="26.0">o</text><text transform="matrix(1.106 0 0 1 389.20 187.60)" font-size="26.0">n</text><text transform="matrix(0.997 0 0 1 400.70 187.60)" font-size="26.0">-</text><text transform="matrix(1.171 0 0 1 410.08 187.60)" font-size="26.0">r</text><text transform="matrix(0.997 0 0 1 420.90 187.60)" font-size="26.0">e</text><text transform="matrix(1.220 0 0 1 431.69 187.60)" font-size="26.0">t</text><text transform="matrix(1.171 0 0 1 441.79 187.60)" font-size="26.0">r</text><text transform="matrix(0.996 0 0 1 453.33 187.60)" font-size="26.0">o</text><text transform="matrix(0.882 0 0 1 463.62 187.60)" font-size="26.0">f</text><text transform="matrix(0.934 0 0 1 470.81 187.60)" font-size="26.0">i</text><text transform="matrix(1.220 0 0 1 479.22 187.60)" font-size="26.0">t</text><text transform="matrix(1.220 0 0 1 489.28 187.60)" font-size="26.0">t</text><text transform="matrix(0.997 0 0 1 500.07 187.60)" font-size="26.0">e</text><text transform="matrix(1.106 0 0 1 513.01 187.60)" font-size="26.0">d</text></g>
<g font-family="Liberation Serif, serif" text-anchor="middle" fill="#000"><text transform="matrix(0.984 0 0 1 360.24 219.20)" font-size="27.0">U</text><text transform="matrix(1.093 0 0 1 376.94 219.20)" font-size="26.0">n</text><text transform="matrix(0.984 0 0 1 387.60 219.20)" font-size="26.0">i</text><text transform="matrix(0.903 0 0 1 395.06 219.20)" font-size="26.0">f</text><text transform="matrix(0.984 0 0 1 405.36 219.20)" font-size="26.0">o</text><text transform="matrix(1.157 0 0 1 416.77 219.20)" font-size="26.0">r</text><text transform="matrix(1.054 0 0 1 432.44 219.20)" font-size="26.0">m</text><text transform="matrix(0.984 0 0 1 446.65 219.20)" font-size="26.0">l</text><text transform="matrix(1.039 0 0 1 456.95 219.20)" font-size="26.0">y</text></g>
<g font-family="Liberation Serif, serif" text-anchor="middle" fill="#000"><text transform="matrix(1.171 0 0 1 477.97 219.20)" font-size="26.0">r</text><text transform="matrix(0.997 0 0 1 488.79 219.20)" font-size="26.0">e</text><text transform="matrix(1.220 0 0 1 499.58 219.20)" font-size="26.0">t</text><text transform="matrix(1.171 0 0 1 509.68 219.20)" font-size="26.0">r</text><text transform="matrix(0.996 0 0 1 521.22 219.20)" font-size="26.0">o</text><text transform="matrix(0.882 0 0 1 531.51 219.20)" font-size="26.0">f</text><text transform="matrix(0.934 0 0 1 538.70 219.20)" font-size="26.0">i</text><text transform="matrix(1.220 0 0 1 547.11 219.20)" font-size="26.0">t</text><text transform="matrix(1.220 0 0 1 557.18 219.20)" font-size="26.0">t</text><text transform="matrix(0.997 0 0 1 567.97 219.20)" font-size="26.0">e</text><text transform="matrix(1.106 0 0 1 580.91 219.20)" font-size="26.0">d</text></g>
<g font-family="Liberation Serif, serif" text-anchor="middle" fill="#000"><text transform="matrix(0.984 0 0 1 360.24 250.60)" font-size="27.0">U</text><text transform="matrix(1.093 0 0 1 376.94 250.60)" font-size="26.0">n</text><text transform="matrix(0.984 0 0 1 387.60 250.60)" font-size="26.0">i</text><text transform="matrix(0.903 0 0 1 395.06 250.60)" font-size="26.0">f</text><text transform="matrix(0.984 0 0 1 405.36 250.60)" font-size="26.0">o</text><text transform="matrix(1.157 0 0 1 416.77 250.60)" font-size="26.0">r</text><text transform="matrix(1.054 0 0 1 432.44 250.60)" font-size="26.0">m</text><text transform="matrix(0.984 0 0 1 446.65 250.60)" font-size="26.0">l</text><text transform="matrix(1.039 0 0 1 456.95 250.60)" font-size="26.0">y</text></g>
<g font-family="Liberation Serif, serif" text-anchor="middle" fill="#000"><text transform="matrix(1.171 0 0 1 477.97 250.60)" font-size="26.0">r</text><text transform="matrix(0.997 0 0 1 488.79 250.60)" font-size="26.0">e</text><text transform="matrix(1.220 0 0 1 499.58 250.60)" font-size="26.0">t</text><text transform="matrix(1.171 0 0 1 509.68 250.60)" font-size="26.0">r</text><text transform="matrix(0.996 0 0 1 521.22 250.60)" font-size="26.0">o</text><text transform="matrix(0.882 0 0 1 531.51 250.60)" font-size="26.0">f</text><text transform="matrix(0.934 0 0 1 538.70 250.60)" font-size="26.0">i</text><text transform="matrix(1.220 0 0 1 547.11 250.60)" font-size="26.0">t</text><text transform="matrix(1.220 0 0 1 557.18 250.60)" font-size="26.0">t</text><text transform="matrix(0.997 0 0 1 567.97 250.60)" font-size="26.0">e</text><text transform="matrix(1.106 0 0 1 580.91 250.60)" font-size="26.0">d</text></g>
<g font-family="Liberation Serif, serif" text-anchor="middle" fill="#000"><text transform="matrix(1.027 0 0 1 360.01 281.80)" font-size="27.0">O</text><text transform="matrix(1.100 0 0 1 377.17 281.80)" font-size="26.0">p</text><text transform="matrix(1.220 0 0 1 389.33 281.80)" font-size="26.0">t</text><text transform="matrix(0.990 0 0 1 397.91 281.80)" font-size="26.0">i</text><text transform="matrix(1.061 0 0 1 412.21 281.80)" font-size="26.0">m</text><text transform="matrix(1.115 0 0 1 429.37 281.80)" font-size="26.0">a</text><text transform="matrix(0.990 0 0 1 439.39 281.80)" font-size="26.0">l</text><text transform="matrix(0.990 0 0 1 446.54 281.80)" font-size="26.0">l</text><text transform="matrix(1.045 0 0 1 456.91 281.80)" font-size="26.0">y</text></g>
<g font-family="Liberation Serif, serif" text-anchor="middle" fill="#000"><text transform="matrix(1.171 0 0 1 477.97 281.80)" font-size="26.0">r</text><text transform="matrix(0.997 0 0 1 488.79 281.80)" font-size="26.0">e</text><text transform="matrix(1.220 0 0 1 499.58 281.80)" font-size="26.0">t</text><text transform="matrix(1.171 0 0 1 509.68 281.80)" font-size="26.0">r</text><text transform="matrix(0.996 0 0 1 521.22 281.80)" font-size="26.0">o</text><text transform="matrix(0.882 0 0 1 531.51 281.80)" font-size="26.0">f</text><text transform="matrix(0.934 0 0 1 538.70 281.80)" font-size="26.0">i</text><text transform="matrix(1.220 0 0 1 547.11 281.80)" font-size="26.0">t</text><text transform="matrix(1.220 0 0 1 557.18 281.80)" font-size="26.0">t</text><text transform="matrix(0.997 0 0 1 567.97 281.80)" font-size="26.0">e</text><text transform="matrix(1.106 0 0 1 580.91 281.80)" font-size="26.0">d</text></g>
<text transform="matrix(1.4306 0 0 1.0340 595.45 219.55)" font-family="Liberation Serif, serif" font-size="25" font-style="italic" fill="#000" stroke="#fff" stroke-width="0.45">n</text>
<rect x="614.0" y="208.95" width="17.8" height="1.5" fill="#000"/><rect x="614.0" y="214.25" width="17.8" height="1.5" fill="#000"/>
<text transform="matrix(0.9165 0 0 0.9710 633.04 219.20)" font-family="Liberation Serif, serif" font-size="27.6" fill="#000">4</text>
<text transform="matrix(1.4306 0 0 1.0340 595.45 250.95)" font-family="Liberation Serif, serif" font-size="25" font-style="italic" fill="#000" stroke="#fff" stroke-width="0.45">n</text>
<rect x="614.0" y="240.35" width="17.8" height="1.5" fill="#000"/><rect x="614.0" y="245.65" width="17.8" height="1.5" fill="#000"/>
<text transform="matrix(0.8989 0 0 0.9808 633.14 250.65)" font-family="Liberation Serif, serif" font-size="27.6" fill="#000">5</text>
<g font-family="Liberation Serif, serif" text-anchor="middle" fill="#262626"><text transform="translate(23.1,299.5) rotate(-90) matrix(1.167 0 0 1 9.81 0.00)" font-size="33.3">P</text><text transform="translate(23.1,299.5) rotate(-90) matrix(1.205 0 0 1 26.83 0.00)" font-size="31">r</text><text transform="translate(23.1,299.5) rotate(-90) matrix(1.024 0 0 1 40.99 0.00)" font-size="31">o</text><text transform="translate(23.1,299.5) rotate(-90) matrix(1.138 0 0 1 57.76 0.00)" font-size="31">b</text><text transform="translate(23.1,299.5) rotate(-90) matrix(1.138 0 0 1 70.99 0.00)" font-size="31">.</text></g>
<g font-family="Liberation Serif, serif" text-anchor="middle" fill="#262626"><text transform="translate(23.1,299.5) rotate(-90) matrix(0.917 0 0 1 97.81 0.00)" font-size="31">o</text><text transform="translate(23.1,299.5) rotate(-90) matrix(0.880 0 0 1 109.26 0.00)" font-size="31">f</text></g>
<g font-family="Liberation Serif, serif" text-anchor="middle" fill="#262626"><text transform="translate(23.1,299.5) rotate(-90) matrix(1.036 0 0 1 132.83 0.00)" font-size="31">e</text><text transform="translate(23.1,299.5) rotate(-90) matrix(1.092 0 0 1 148.41 0.00)" font-size="31">x</text><text transform="translate(23.1,299.5) rotate(-90) matrix(1.036 0 0 1 164.00 0.00)" font-size="31">c</text><text transform="translate(23.1,299.5) rotate(-90) matrix(1.036 0 0 1 178.25 0.00)" font-size="31">e</text><text transform="translate(23.1,299.5) rotate(-90) matrix(1.036 0 0 1 192.50 0.00)" font-size="31">e</text><text transform="translate(23.1,299.5) rotate(-90) matrix(1.149 0 0 1 208.54 0.00)" font-size="31">d</text><text transform="translate(23.1,299.5) rotate(-90) matrix(1.165 0 0 1 225.46 0.00)" font-size="31">a</text><text transform="translate(23.1,299.5) rotate(-90) matrix(1.149 0 0 1 242.39 0.00)" font-size="31">n</text><text transform="translate(23.1,299.5) rotate(-90) matrix(1.036 0 0 1 258.42 0.00)" font-size="31">c</text><text transform="translate(23.1,299.5) rotate(-90) matrix(1.036 0 0 1 272.67 0.00)" font-size="31">e</text></g>
<text transform="matrix(1.0688 0 0 1.0607 315.50 385.40)" font-family="Liberation Serif, serif" font-size="33" font-style="italic" fill="#262626">S</text>
<text transform="matrix(1.0937 0 0 0.9182 334.38 389.67)" font-family="Liberation Serif, serif" font-size="23" font-style="italic" fill="#262626">a</text>
<text transform="matrix(0.8836 0 0 1.1113 348.97 386.02)" font-family="Liberation Serif, serif" font-size="33" fill="#262626">(</text>
<g stroke="#262626" fill="none" stroke-linecap="butt"><path d="M361.5,369.6 L362.7,364.0 L385.0,364.0 L383.7,369.6" stroke-width="1.25" stroke-linejoin="miter"/><path d="M375.5,364.0 L370.2,384.6" stroke-width="3.2"/><path d="M363.4,384.75 L376.4,384.75" stroke-width="1.2"/></g>
<text transform="matrix(0.9075 0 0 1.1113 384.58 386.02)" font-family="Liberation Serif, serif" font-size="33" fill="#262626">)</text>
<text transform="matrix(0.6621 0 0 1.2220 408.34 388.45)" font-family="Liberation Serif, serif" font-size="33" fill="#262626">[</text>
<text transform="matrix(1.0138 0 0 0.9042 415.01 385.26)" font-family="Liberation Serif, serif" font-size="33" fill="#262626">g</text>
<text transform="matrix(0.6621 0 0 1.2220 431.27 388.45)" font-family="Liberation Serif, serif" font-size="33" fill="#262626">]</text>
</svg></body></html>
